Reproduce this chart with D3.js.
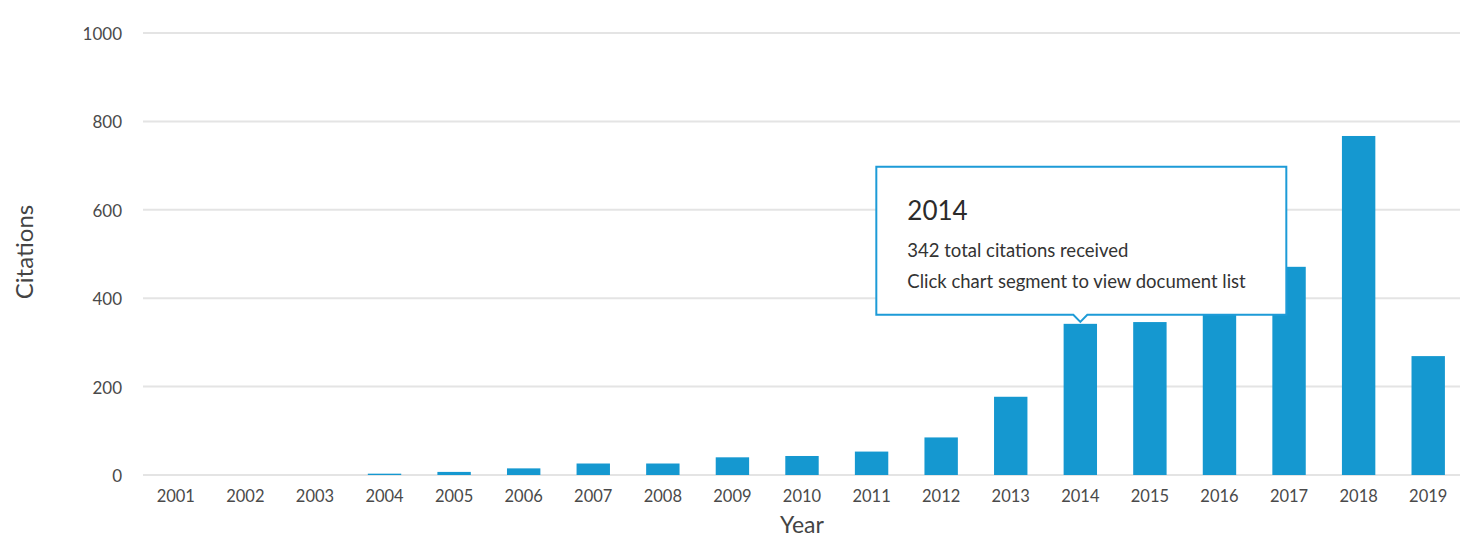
<!DOCTYPE html>
<html><head><meta charset="utf-8">
<script src="https://cdn.jsdelivr.net/npm/d3@7"></script>
<style>
html,body{margin:0;padding:0;background:#fff;}
svg{display:block;font-family:"Lato","Open Sans",sans-serif;}
</style></head>
<body><svg id="c" width="1460" height="539"></svg>
<script>
const years = ["2001","2002","2003","2004","2005","2006","2007","2008","2009","2010","2011","2012","2013","2014","2015","2016","2017","2018","2019"];
const citations = [0,0,0,3,7,15,26,26,40,43,53,85,177,342,346,370,471,767,269];
const yTicks = [0,200,400,600,800,1000];
const tipYear = "2014";
const tipLines = ["342 total citations received","Click chart segment to view document list"];

const svg = d3.select("#c");
const x = d3.scaleBand().domain(years).range([141,1463]).paddingInner(0.52).paddingOuter(0.26);
const y = d3.scaleLinear().domain([0,1000]).range([475,33]);

// grid
svg.append("g").selectAll("line").data(yTicks).join("line")
  .attr("x1",143).attr("x2",1460)
  .attr("y1",d=>y(d)).attr("y2",d=>y(d))
  .attr("stroke","#e4e4e4").attr("stroke-width",2);

// y axis labels
const ya = svg.append("g").attr("transform","translate(122,1)")
  .call(d3.axisLeft(y).tickValues(yTicks).tickFormat(d3.format("d")).tickSize(0).tickPadding(0));
ya.select(".domain").remove();
ya.selectAll("text").attr("font-family","Lato, 'Open Sans', sans-serif").attr("font-size",17).attr("fill","#4a4a4a");

// x axis labels
const xa = svg.append("g").attr("transform","translate(0,490)")
  .call(d3.axisBottom(x).tickSize(0).tickPadding(0));
xa.select(".domain").remove();
xa.selectAll("text").attr("font-family","Lato, 'Open Sans', sans-serif").attr("font-size",16.5).attr("fill","#4a4a4a");

// bars
svg.append("g").selectAll("rect").data(years).join("rect")
  .attr("x",d=>x(d)).attr("width",x.bandwidth())
  .attr("y",(d,i)=>y(citations[i])).attr("height",(d,i)=>y(0)-y(citations[i]))
  .attr("fill","#1598d0");

// axis titles
svg.append("text").attr("transform","translate(33,252) rotate(-90)")
  .attr("text-anchor","middle").attr("font-size",24).attr("fill","#444").text("Citations");
svg.append("text").attr("x",802).attr("y",533)
  .attr("text-anchor","middle").attr("font-size",23).attr("fill","#444").text("Year");

// tooltip
const ti = years.indexOf(tipYear);
const cx = x(tipYear)+x.bandwidth()/2;
const tipY = y(citations[ti]) - 2;
const bx = cx-204, bw = 410, bh = 148, by = tipY - 7 - bh;
const g = svg.append("g");
const p = d3.path();
p.moveTo(bx,by); p.lineTo(bx+bw,by); p.lineTo(bx+bw,by+bh);
p.lineTo(cx+7,by+bh); p.lineTo(cx,by+bh+7); p.lineTo(cx-7,by+bh); p.lineTo(bx,by+bh); p.closePath();
g.append("path").attr("d",p.toString()).attr("fill","#fff").attr("stroke","#1d9bd7").attr("stroke-width",2);
g.append("text").attr("x",bx+31).attr("y",by+53).attr("font-size",26).attr("fill","#2b2b2b").text(tipYear);
g.selectAll("text.l").data(tipLines).join("text").attr("class","l")
  .attr("x",bx+31).attr("y",(d,i)=>by+90+i*31).attr("font-size",18.5).attr("fill","#333").text(d=>d);
</script></body></html>
